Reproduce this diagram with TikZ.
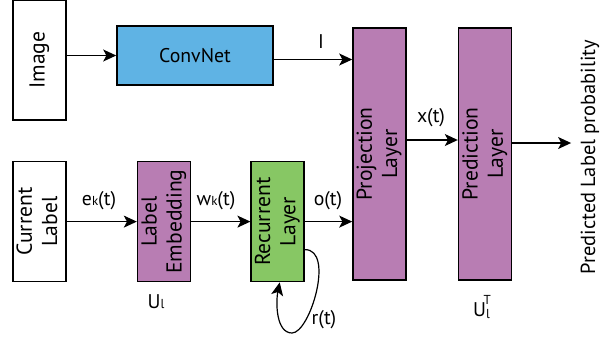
\documentclass[tikz,border=0pt]{standalone}
\usepackage{fontspec}
\setmainfont{PT Sans}
\usepackage{graphicx}
\usetikzlibrary{arrows.meta,positioning}

\definecolor{convblue}{HTML}{5FB3E4}
\definecolor{layerpurple}{HTML}{B87DB3}
\definecolor{recgreen}{HTML}{87C764}

\newcommand{\vtext}[1]{\rotatebox{90}{\fontsize{10.8}{12.6}\selectfont\begin{tabular}{@{}c@{}}#1\end{tabular}}}
\newcommand{\subl}[1]{{\fontsize{6.5}{7}\selectfont #1}}

\begin{document}
\begin{tikzpicture}[x=0.5pt, y=-0.5pt, >={Stealth[length=6.5pt,width=6pt,inset=1.6pt]},
  font=\fontsize{9.9}{11}\selectfont, line width=0.6pt]
\tikzstyle{plain}=[rectangle, draw, line width=0.8pt, minimum width=26.5pt, minimum height=60pt, inner sep=0pt]
\tikzstyle{embed}=[plain, fill=layerpurple]
\tikzstyle{recur}=[plain, fill=recgreen]
\tikzstyle{lbl}=[inner sep=1pt]
\useasboundingbox (0,0) rectangle (609,339);
% inputs
\node[plain] (img) at (39.5,60) {\vtext{Image}};
\node[plain, below=20pt of img] (cur) {\vtext{Current\\Label}};
\node[plain, fill=convblue, minimum width=78pt, minimum height=29.5pt] (conv) at (195,55.5) {ConvNet};
% label branch
\node[embed, right=35pt of cur] (emb) {\vtext{Label\\Embedding}};
\node[recur, right=29.5pt of emb] (rec) {\vtext{Recurrent\\Layer}};
% projection and prediction
\node[embed, minimum height=126pt] (proj) at (379.5,154) {\vtext{Projection\\Layer}};
\node[embed, minimum height=126pt, right=25.5pt of proj] (pred) {\vtext{Prediction\\Layer}};
\node[inner sep=4.5pt] (outp) at (590,157) {\rotatebox{90}{\fontsize{10.2}{12}\selectfont Predicted Label probability}};
% connectors
\draw[->] (img.east |- conv.west) -- (conv.west);
\draw[->] ([yshift=-2pt]conv.east) -- ([yshift=-2pt]conv.east -| proj.west);
\draw[->] (cur) -- (emb);
\draw[->] (emb) -- (rec);
\draw[->] (rec.east) -- (rec.east -| proj.west);
\draw[->] ([yshift=7pt]proj.east) -- ([yshift=7pt]proj.east -| pred.west);
\draw[->] ([yshift=5.5pt]pred.east) -- ([yshift=5.5pt]pred.east -| outp.west);
\coordinate (rloop) at (292,333);
\draw[->] ([yshift=-14pt]rec.east) .. controls +(30,0) and +(18,0) .. (rloop)
  .. controls +(-16,0) and +(-4,20) .. ([xshift=1pt]rec.south);
% labels
\node[lbl] (lI) at (321,42) {I};
\node[lbl] (lek) at (99,201) {e\subl{k}(t)};
\node[lbl] (lwk) at (216,201) {w\subl{k}(t)};
\node[lbl] (lo) at (328,201) {o(t)};
\node[lbl] (lx) at (431,118) {x(t)};
\node[lbl] (lr) at (324,320) {r(t)};
\node[lbl] (lU) at (156,302) {U\subl{l}};
\node[lbl] (lUT) at (482,307) {U\raisebox{-0.2ex}{\subl{l}}\hspace{-0.32em}\raisebox{1.2ex}{\subl{T}}};
\end{tikzpicture}
\end{document}
